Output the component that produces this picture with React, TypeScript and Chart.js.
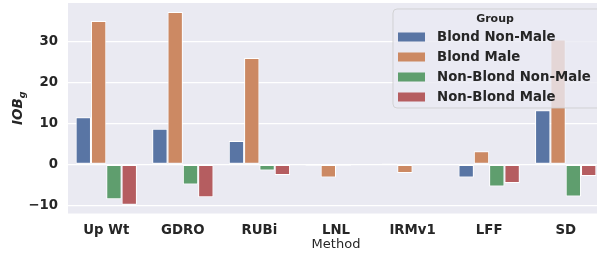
import React, { useEffect, useRef } from "react";
import { Chart, registerables } from "chart.js";

Chart.register(...registerables);

const methods = ["Up Wt", "GDRO", "RUBi", "LNL", "IRMv1", "LFF", "SD"];
const groupNames = ["Blond Non-Male", "Blond Male", "Non-Blond Non-Male", "Non-Blond Male"];
const blondNonMale = [11.5, 8.7, 5.7, -0.35, 0.3, -3.2, 13.2];
const blondMale = [34.9, 37.1, 25.9, -3.2, -2.1, 3.2, 30.4];
const nonBlondNonMale = [-8.5, -4.9, -1.5, -0.35, -0.05, -5.4, -7.8];
const nonBlondMale = [-9.8, -8.0, -2.6, -0.15, -0.15, -4.5, -2.8];
const yTicks = [-10, 0, 10, 20, 30];
const groupColors = ["#5975A4", "#CC8963", "#5F9E6E", "#B55D60"];

const FONT = "'DejaVu Sans', sans-serif";
const TEXT = "#262626";

export default function App() {
  const ref = useRef<HTMLCanvasElement | null>(null);

  useEffect(() => {
    if (!ref.current) return;
    const series = [blondNonMale, blondMale, nonBlondNonMale, nonBlondMale];

    const bgPlugin = {
      id: "bg",
      beforeDraw(chart: any) {
        const { ctx, chartArea: a } = chart;
        ctx.save();
        ctx.fillStyle = "#EAEAF2";
        ctx.fillRect(a.left, a.top, a.right - a.left, a.bottom - a.top);
        ctx.restore();
      },
    };

    const overlayPlugin = {
      id: "overlay",
      afterDatasetsDraw(chart: any) {
        const { ctx } = chart;
        ctx.save();
        const lx = 393, ly = 9, lw = 208, lh = 99, r = 4;
        ctx.beginPath();
        ctx.moveTo(lx + r, ly);
        ctx.lineTo(lx + lw - r, ly);
        ctx.quadraticCurveTo(lx + lw, ly, lx + lw, ly + r);
        ctx.lineTo(lx + lw, ly + lh - r);
        ctx.quadraticCurveTo(lx + lw, ly + lh, lx + lw - r, ly + lh);
        ctx.lineTo(lx + r, ly + lh);
        ctx.quadraticCurveTo(lx, ly + lh, lx, ly + lh - r);
        ctx.lineTo(lx, ly + r);
        ctx.quadraticCurveTo(lx, ly, lx + r, ly);
        ctx.closePath();
        ctx.fillStyle = "rgba(234,234,242,0.8)";
        ctx.fill();
        ctx.strokeStyle = "rgba(204,204,204,0.8)";
        ctx.lineWidth = 1;
        ctx.stroke();

        ctx.fillStyle = TEXT;
        ctx.textAlign = "center";
        ctx.textBaseline = "middle";
        ctx.font = `bold 11px ${FONT}`;
        ctx.fillText("Group", 495, 19);

        ctx.textAlign = "left";
        ctx.font = `bold 13.3px ${FONT}`;
        groupNames.forEach((name, i) => {
          const cy = 37 + i * 20;
          ctx.fillStyle = groupColors[i];
          ctx.fillRect(398, cy - 4.5, 27, 9);
          ctx.fillStyle = TEXT;
          ctx.fillText(name, 437, cy + 0.5);
        });
        ctx.restore();
      },
      afterDraw(chart: any) {
        const { ctx, chartArea: a } = chart;
        ctx.save();
        ctx.fillStyle = TEXT;
        ctx.textBaseline = "middle";
        ctx.textAlign = "center";
        ctx.font = `13px ${FONT}`;
        ctx.fillText("Method", (a.left + a.right) / 2, 245);

        ctx.translate(17, (a.top + a.bottom) / 2);
        ctx.rotate(-Math.PI / 2);
        ctx.font = `italic bold 13.5px ${FONT}`;
        const main = "IOB";
        const mw = ctx.measureText(main).width;
        ctx.font = `italic bold 9.5px ${FONT}`;
        const sw = ctx.measureText("g").width;
        const total = mw + sw;
        ctx.textAlign = "left";
        ctx.textBaseline = "alphabetic";
        ctx.font = `italic bold 13.5px ${FONT}`;
        ctx.fillText(main, -total / 2, 5);
        ctx.font = `italic bold 9.5px ${FONT}`;
        ctx.fillText("g", -total / 2 + mw, 8);
        ctx.restore();
      },
    };

    const chart = new Chart(ref.current, {
      type: "bar",
      data: {
        labels: methods,
        datasets: groupNames.map((name, i) => ({
          label: name,
          data: series[i],
          backgroundColor: groupColors[i],
          borderColor: "#ffffff",
          borderWidth: 1,
          borderSkipped: false,
          categoryPercentage: 0.8,
          barPercentage: 1.0,
        })),
      },
      options: {
        responsive: false,
        animation: false,
        devicePixelRatio: 1,
        layout: { padding: { top: 3, right: 6, left: 0, bottom: 0 } },
        plugins: {
          legend: { display: false },
          tooltip: { enabled: false },
        },
        scales: {
          x: {
            grid: { display: false, drawTicks: false },
            border: { display: false },
            ticks: {
              color: TEXT,
              font: { family: FONT, size: 13.3, weight: "bold" },
              padding: 9,
              maxRotation: 0,
              autoSkip: false,
            },
            afterFit: (s: any) => {
              s.height = 40.5;
              s.paddingLeft = 0;
              s.paddingRight = 0;
            },
          },
          y: {
            min: -11.95,
            max: 39.3,
            grid: { color: "#ffffff", lineWidth: 1.3, drawTicks: false },
            border: { display: false },
            ticks: {
              color: TEXT,
              font: { family: FONT, size: 13.3, weight: "bold" },
              padding: 10,
              stepSize: 10,
              callback: (v: any) => (v < 0 ? "\u2212" + Math.abs(v) : String(v)),
            },
            afterBuildTicks: (s: any) => {
              s.ticks = yTicks.map((v) => ({ value: v }));
            },
            afterFit: (s: any) => {
              s.width = 68;
              s.paddingTop = 0;
              s.paddingBottom = 0;
            },
          },
        },
      },
      plugins: [bgPlugin, overlayPlugin],
    } as any);

    return () => chart.destroy();
  }, []);

  return (
    <div
      style={{
        position: "fixed",
        left: 0,
        top: 0,
        width: 597,
        height: 254,
        overflow: "hidden",
        background: "#ffffff",
      }}
    >
      <canvas ref={ref} width={610} height={254} style={{ width: 610, height: 254, display: "block" }} />
    </div>
  );
}
